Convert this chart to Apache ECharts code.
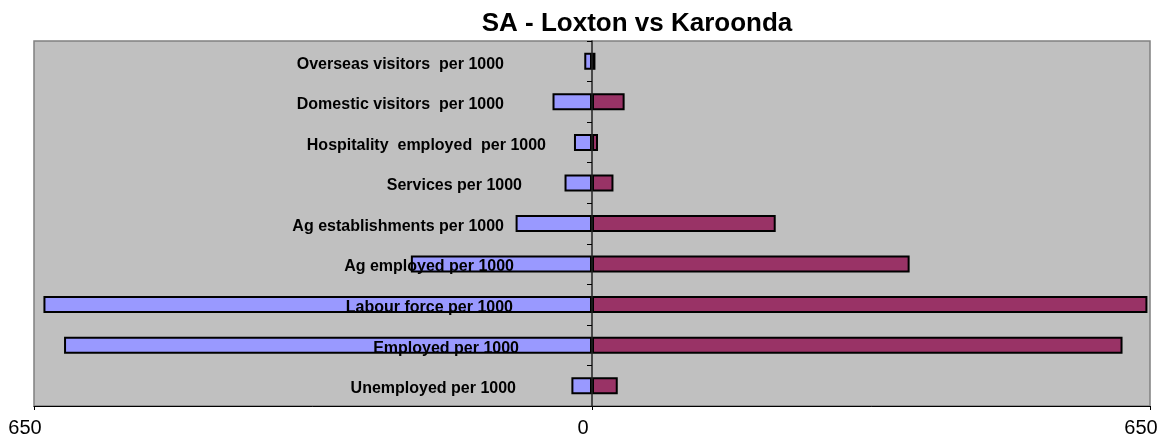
<!DOCTYPE html>
<html>
<head>
<meta charset="utf-8">
<script src="https://cdn.jsdelivr.net/npm/echarts@6/dist/echarts.min.js"></script>
<style>
  html, body { margin: 0; padding: 0; background: #ffffff; }
  #main { width: 1170px; height: 439px; }
</style>
</head>
<body>
<div id="main"></div>
<script>
// categories, bottom to top (as they are stacked on the y axis)
var categories = [
  'Unemployed per 1000',
  'Employed per 1000',
  'Labour force per 1000',
  'Ag employed per 1000',
  'Ag establishments per 1000',
  'Services per 1000',
  'Hospitality  employed  per 1000',
  'Domestic visitors  per 1000',
  'Overseas visitors  per 1000'
];
// Loxton drawn to the left, Karoonda to the right
var loxton = [24, 615, 639, 211, 89, 32, 21, 46, 9];
var karoonda = [30, 618, 647, 370, 214, 25, 7, 38, 4];
var xTicks = [-650, 0, 650];

// the labels in the original sit at uneven distances from the axis
var labelShift = [30, 27, 33, 32, 42, 24, 0, 42, 42];
var rich = {};
labelShift.forEach(function (s, i) {
  rich['r' + i] = {
    fontFamily: 'Liberation Sans, Arial, sans-serif',
    fontWeight: 'bold',
    fontSize: 16,
    color: '#000',
    padding: [6, s, 0, 0]
  };
});

var myChart = echarts.init(document.getElementById('main'));
var option = {
  backgroundColor: '#ffffff',
  animation: false,
  title: {
    text: 'SA - Loxton vs Karoonda',
    left: 632,
    textAlign: 'center',
    top: 6,
    textStyle: {
      fontFamily: 'Liberation Sans, Arial, sans-serif',
      fontWeight: 'bold',
      fontSize: 26,
      color: '#000'
    }
  },
  grid: {
    left: 34,
    right: 20,
    top: 41,
    bottom: 33,
    containLabel: false,
    outerBoundsMode: 'none',
    show: true,
    backgroundColor: '#C0C0C0',
    borderColor: '#808080',
    borderWidth: 1.5
  },
  xAxis: {
    type: 'value',
    min: xTicks[0],
    max: xTicks[2],
    interval: 650,
    splitLine: { show: false },
    axisLine: { show: true, lineStyle: { color: '#000', width: 1 } },
    axisTick: { show: true, length: 4, lineStyle: { color: '#000' } },
    axisLabel: {
      margin: 12,
      fontFamily: 'Liberation Sans, Arial, sans-serif',
      fontSize: 20,
      color: '#000',
      padding: [0, 18, 0, 0],
      formatter: function (v) { return String(Math.abs(v)); }
    }
  },
  yAxis: {
    type: 'category',
    data: categories,
    z: 5,
    axisLine: { show: true, onZero: true, lineStyle: { color: '#222', width: 1.5 } },
    axisTick: { show: true, length: 5, lineStyle: { color: '#000' } },
    splitLine: { show: false },
    axisLabel: {
      // labels stay at the grid edge, so pull them into the plot area
      margin: -512,
      rich: rich,
      formatter: function (v, i) { return '{r' + i + '|' + v + '}'; }
    }
  },
  series: [
    {
      name: 'Loxton',
      type: 'bar',
      stack: 'total',
      barWidth: 17,
      itemStyle: { color: '#9999FF', borderColor: '#000', borderWidth: 2 },
      data: loxton.map(function (v) { return -v; })
    },
    {
      name: 'Karoonda',
      type: 'bar',
      stack: 'total',
      barWidth: 17,
      itemStyle: { color: '#993366', borderColor: '#000', borderWidth: 2 },
      data: karoonda
    }
  ]
};
option && myChart.setOption(option);
</script>
</body>
</html>
